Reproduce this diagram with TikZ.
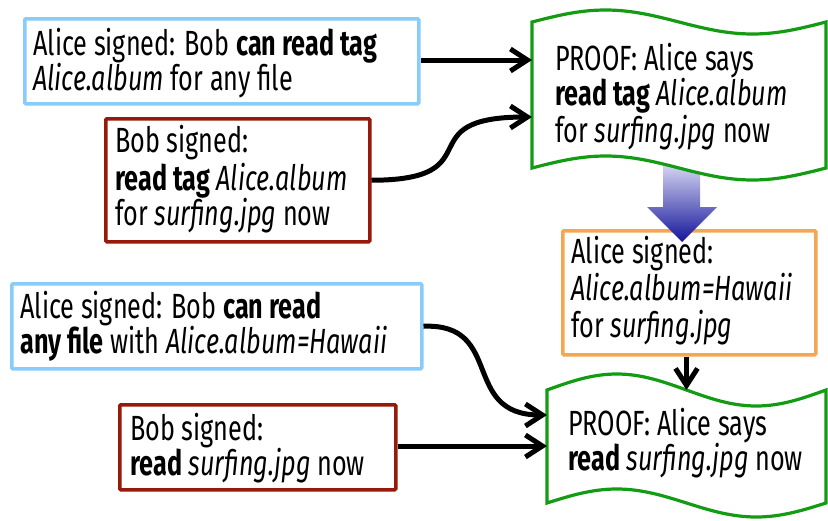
\documentclass[tikz,border=0pt]{standalone}
\usepackage{fontspec}
\setmainfont{Fira Sans}[FakeStretch=0.72]
\usetikzlibrary{arrows.meta}
\definecolor{lblue}{RGB}{135,204,250}
\definecolor{dred}{RGB}{150,25,10}
\definecolor{pgreen}{RGB}{20,155,20}
\definecolor{porange}{RGB}{244,166,82}
\definecolor{gtop}{RGB}{210,210,240}
\definecolor{gbot}{RGB}{20,20,155}
\begin{document}
\begin{tikzpicture}[x=1pt,y=-1pt,
  box/.style={draw, line width=3.5pt, anchor=north west, inner sep=0pt, fill=white, rounded corners=1pt},
  txt/.style={anchor=base west, inner sep=0pt, font=\fontsize{35}{38}\selectfont},
  proof/.style={draw=pgreen, fill=white, line width=3.2pt},
  conn/.style={line width=5pt, -{Straight Barb[length=17pt,width=22pt]}}
]
\useasboundingbox (0,0) rectangle (828,520);

% boxes
\node[box, draw=lblue, minimum width=394pt, minimum height=85pt] (b1) at (23,17) {};
\node[box, draw=dred, minimum width=264pt, minimum height=123pt] (b2) at (104,117) {};
\node[box, draw=lblue, minimum width=410pt, minimum height=85pt] (b3) at (10,282) {};
\node[box, draw=dred, minimum width=276pt, minimum height=85pt] (b4) at (118,403) {};
\node[box, draw=porange, minimum width=253pt, minimum height=124pt] (ob) at (561,229) {};

% gradient arrow
\shade[top color=gtop, bottom color=gbot] (663,166) -- (700,166) -- (700,207) -- (717,207) -- (682,242) -- (647,207) -- (663,207) -- cycle;

% proof shapes
\draw[proof] (532,22) sin (605.5,10) cos (679,22) sin (752.5,34) cos (826,22) -- (826,168) sin (752.5,180) cos (679,168) sin (605.5,156) cos (532,168) -- cycle;
\draw[proof] (547,390) sin (616.75,374) cos (686.5,390) sin (756.25,406) cos (826,390) -- (826,503) sin (756.25,517) cos (686.5,503) sin (616.75,489) cos (547,503) -- cycle;

\coordinate (p1a) at (532,60);
\coordinate (p1b) at (532,117);
\coordinate (p2a) at (547,415);
\coordinate (p2b) at (547,446);
\coordinate (p2t) at (686.5,390);

% texts
\node[txt] (t11) at (33,55) {Alice signed: Bob \textbf{can read tag}};
\node[txt] (t12) at (33,90) {\textit{Alice.album} for any file};
\node[txt] (t21) at (115,152) {Bob signed:};
\node[txt] (t22) at (115,190) {\textbf{read tag} \textit{Alice.album}};
\node[txt] (t23) at (115,225) {for \textit{surfing.jpg} now};
\node[txt] (t31) at (555,70) {PROOF: Alice says};
\node[txt] (t32) at (555,105) {\textbf{read tag} \textit{Alice.album}};
\node[txt] (t33) at (555,142) {for \textit{surfing.jpg} now};
\node[txt] (t41) at (571,263) {Alice signed:};
\node[txt] (t42) at (571,300) {\textit{Alice.album=Hawaii}};
\node[txt] (t43) at (571,337) {for \textit{surfing.jpg}};
\node[txt] (t51) at (20,318) {Alice signed: Bob \textbf{can read}};
\node[txt] (t52) at (20,353) {\textbf{any file} with \textit{Alice.album=Hawaii}};
\node[txt] (t61) at (130,440) {Bob signed:};
\node[txt] (t62) at (130,475) {\textbf{read} \textit{surfing.jpg} now};
\node[txt] (t71) at (568,435) {PROOF: Alice says};
\node[txt] (t72) at (568,470) {\textbf{read} \textit{surfing.jpg} now};

% connectors
\draw[conn] (b1.east |- p1a) -- (p1a);
\draw[conn] (b2.east) .. controls (495,180) and (405,117) .. (p1b);
\draw[conn] (b3.east) .. controls (505,323) and (460,415) .. (p2a);
\draw[conn] (b4.east |- p2b) -- (p2b);
\draw[conn] (ob.south -| p2t) -- (p2t);
\end{tikzpicture}
\end{document}
